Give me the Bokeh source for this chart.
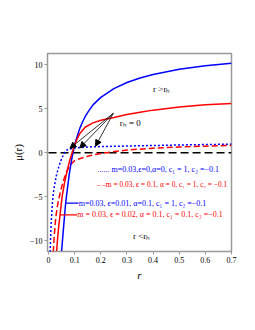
from bokeh.plotting import figure
from bokeh.models import ColumnDataSource, Arrow, NormalHead, FixedTicker, Range1d
from bokeh.core.properties import value
from bokeh.embed import file_html
from bokeh.resources import INLINE

# ---- data ----
r_blue_dot = [0.006, 0.01, 0.015, 0.02, 0.03, 0.04, 0.05, 0.06, 0.07, 0.085, 0.1, 0.15, 0.2, 0.3, 0.4, 0.5, 0.6, 0.7]
mu_blue_dot = [-11.3, -8.0, -5.6, -4.2, -2.6, -1.5, -0.7, -0.05, 0.3, 0.45, 0.55, 0.65, 0.7, 0.76, 0.82, 0.88, 0.93, 0.98]

r_red_dash = [0.018, 0.022, 0.027, 0.033, 0.042, 0.05, 0.06, 0.07, 0.084, 0.1, 0.122, 0.15, 0.173, 0.2, 0.237, 0.3, 0.4, 0.5, 0.6, 0.7]
mu_red_dash = [-11.3, -9.4, -7.6, -6.2, -4.9, -3.9, -2.9, -2.1, -1.35, -0.9, -0.65, -0.4, -0.23, -0.08, 0.07, 0.3, 0.52, 0.65, 0.75, 0.83]

r_blue = [0.05, 0.058, 0.065, 0.07, 0.08, 0.09, 0.1, 0.11, 0.12, 0.13, 0.14, 0.15, 0.17, 0.2, 0.25, 0.3, 0.35, 0.4, 0.5, 0.6, 0.7]
mu_blue = [-11.2, -8.3, -5.9, -4.6, -2.3, -0.5, 0.9, 1.9, 2.8, 3.5, 4.1, 4.6, 5.45, 6.3, 7.3, 8.0, 8.5, 8.9, 9.5, 9.9, 10.2]

r_red = [0.031, 0.035, 0.04, 0.045, 0.052, 0.06, 0.07, 0.08, 0.09, 0.1, 0.11, 0.12, 0.14, 0.17, 0.2, 0.25, 0.3, 0.35, 0.4, 0.5, 0.6, 0.7]
mu_red = [-11.2, -9.6, -8.1, -6.8, -5.0, -3.6, -2.2, -1.0, 0.0, 0.9, 1.6, 2.2, 2.9, 3.4, 3.7, 4.0, 4.35, 4.6, 4.85, 5.2, 5.45, 5.6]

r_black = [0.0, 0.7]
mu_black = [0.0, 0.0]

x_ticks = [0, 0.1, 0.2, 0.3, 0.4, 0.5, 0.6, 0.7]
x_tick_labels = ["0", "0.1", "0.2", "0.3", "0.4", "0.5", "0.6", "0.7"]
y_ticks = [-10, -5, 0, 5, 10]
y_tick_labels = ["\u221210", "\u22125", "0", "5", "10"]

legend_texts = [
    "...... m=0.03,\u03f5=0,\u03b1=0, c\u2081 = 1, c\u2082 =\u22120.1",
    "\u2013 \u2013m = 0.03, \u03f5 = 0.1, \u03b1 = 0, c\u2081 = 1, c\u2082 = \u22120.1",
    "m=0.03, \u03f5=0.01, \u03b1=0.1, c\u2081 = 1, c\u2082 =\u22120.1",
    "m = 0.03, \u03f5 = 0.02, \u03b1 = 0.1, c\u2081 = 0.1, c\u2082 =\u22120.1",
]
legend_colors = ["blue", "red", "blue", "red"]
legend_sizes = ["8px", "7.4px", "8px", "8px"]
legend_x = [0.1875, 0.184, 0.116, 0.110]
legend_y = [-1.95, -3.6, -5.73, -7.07]

# pointer lines from curves to labels (rows 3 and 4)
ptr_x0 = [0.066, 0.043]
ptr_x1 = [0.115, 0.109]
ptr_y = [-5.73, -7.07]
ptr_colors = ["blue", "red"]

# arrows for r_h = 0
arr_x0 = [0.248, 0.248, 0.248]
arr_y0 = [4.5, 4.5, 4.5]
arr_x1 = [0.082, 0.12, 0.18]
arr_y1 = [0.5, 0.55, 0.75]

notes = ["r >r\u2095", "r\u2095 = 0", "r <r\u2095"]
notes_x = [0.4, 0.272, 0.323]
notes_y = [7.3, 3.33, -9.5]

SERIF = "Liberation Serif"

p = figure(width=247, height=322, output_backend="svg", toolbar_location=None,
           x_range=Range1d(-0.004, 0.7), y_range=Range1d(-11.25, 11.3),
           min_border_left=47, min_border_right=16, min_border_top=53, min_border_bottom=71)
p.background_fill_color = "white"
p.border_fill_color = "white"
p.grid.visible = False
p.outline_line_color = "#999999"
p.outline_line_width = 1.5

p.line(r_black, mu_black, line_color="black", line_width=1.5, line_dash="8 4")
p.line(r_blue_dot, mu_blue_dot, line_color="blue", line_width=1.5, line_dash="2 2")
p.line(r_red_dash, mu_red_dash, line_color="red", line_width=1.5, line_dash="6 3")
p.line(r_blue, mu_blue, line_color="blue", line_width=1.5)
p.line(r_red, mu_red, line_color="red", line_width=1.5)

p.segment(x0=ptr_x0, y0=ptr_y, x1=ptr_x1, y1=ptr_y, line_color=ptr_colors, line_width=1.2)

asrc = ColumnDataSource(dict(x0=arr_x0, y0=arr_y0, x1=arr_x1, y1=arr_y1))
p.add_layout(Arrow(end=NormalHead(size=6, fill_color="black", line_color="black"),
                   x_start="x0", y_start="y0", x_end="x1", y_end="y1",
                   line_color="black", line_width=0.8, source=asrc))

lsrc = ColumnDataSource(dict(x=legend_x, y=legend_y, t=legend_texts, c=legend_colors, s=legend_sizes))
p.text(x="x", y="y", text="t", text_color="c", text_font_size="s", source=lsrc,
       text_font=value(SERIF), text_baseline="middle", text_align="left")
p.text(x=notes_x, y=notes_y, text=notes, text_color="black",
       text_font=value(SERIF), text_font_size="9px", text_baseline="middle", text_align="left")

for ax in (p.xaxis[0], p.yaxis[0]):
    ax.axis_line_color = None
    ax.major_tick_line_color = "#999999"
    ax.major_tick_out = 3
    ax.major_tick_in = 0
    ax.minor_tick_line_color = None
    ax.major_label_text_font = SERIF
    ax.major_label_text_font_size = "8px"
    ax.major_label_text_color = "black"
    ax.axis_label_text_font = SERIF
    ax.axis_label_text_font_style = "italic"
    ax.axis_label_text_color = "black"
    ax.axis_label_text_font_size = "11px"

p.xaxis.ticker = FixedTicker(ticks=x_ticks)
p.xaxis.major_label_overrides = {t: l for t, l in zip(x_ticks, x_tick_labels)}
p.yaxis.ticker = FixedTicker(ticks=y_ticks)
p.yaxis.major_label_overrides = {t: l for t, l in zip(y_ticks, y_tick_labels)}
p.xaxis.major_label_standoff = 2
p.yaxis.major_label_standoff = 2
p.xaxis.axis_label = "r"
p.xaxis.axis_label_standoff = 3
p.yaxis.axis_label = "\u03bc(r)"
p.yaxis.axis_label_text_font_style = "normal"
p.yaxis.axis_label_standoff = 3

open("out.html", "w").write(file_html(p, INLINE))
